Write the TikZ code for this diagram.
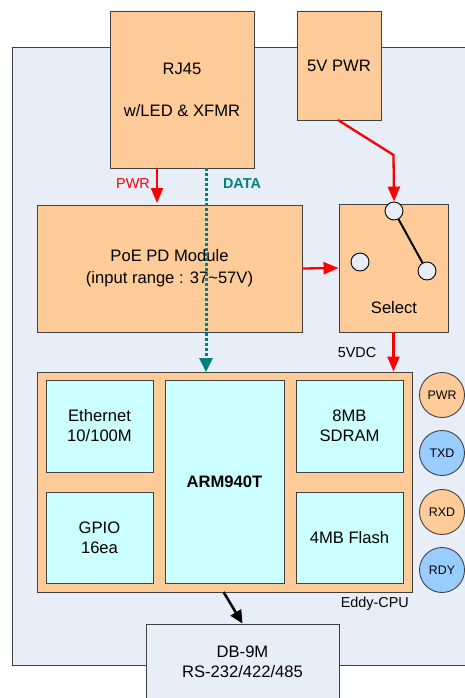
\documentclass[tikz,border=0pt]{standalone}
\usepackage{fontspec}
\setmainfont{Liberation Sans}
\usetikzlibrary{arrows.meta}
\definecolor{bgpanel}{HTML}{E8EEF8}
\definecolor{orangefill}{HTML}{FFCC99}
\definecolor{cyanfill}{HTML}{CCFFFF}
\definecolor{bluefill}{HTML}{99CCFF}
\definecolor{edgegray}{HTML}{404040}
\definecolor{tealc}{HTML}{008080}
\begin{document}
\begin{tikzpicture}[x=1pt,y=-1pt,
  mainfont/.style={font=\fontsize{16.6}{20}\selectfont},
  box/.style={draw=edgegray,line width=0.9pt,fill=orangefill,inner sep=0pt,mainfont,align=center},
  chip/.style={draw=edgegray,line width=0.9pt,fill=cyanfill,inner sep=0pt,mainfont,align=center,minimum width=107pt},
  led/.style={circle,draw=edgegray,line width=0.9pt,minimum size=45pt,inner sep=0pt,font=\fontsize{12.4}{14}\selectfont},
  swdot/.style={circle,draw=black,line width=0.9pt,fill=bgpanel,minimum size=18pt,inner sep=0pt},
  lbl/.style={font=\fontsize{14.4}{17}\selectfont,inner sep=0pt},
  redarrow/.style={draw=red,line width=2.3pt,-{Triangle[length=15pt,width=12pt]}},
]
\useasboundingbox (0,0) rectangle (465,698);
% background panel
\fill[bgpanel,draw=edgegray,line width=0.9pt] (12,47) rectangle (475,665);

% top boxes
\node[box,minimum width=144pt,minimum height=157pt] (rj) at (182,89.5) {RJ45\\[22pt]w/LED \& XFMR};
\node[box,minimum width=84pt,minimum height=109pt] (pwr5) at (339,65.5) {5V PWR};

% PoE and Select
\node[box,minimum width=265pt,minimum height=127pt] (poe) at (169.5,268.5) {PoE PD Module\\[2pt](input range : 37\textasciitilde57V)};
\node[box,minimum width=109pt,minimum height=128pt] (sel) at (393.5,268) {};
\node[mainfont,inner sep=0pt] (seltxt) at (394,308) {Select};
\node[swdot] (swtop) at (394,211) {};
\node[swdot] (swleft) at (360,262) {};
\node[swdot] (swright) at (427,271) {};
\draw[black,line width=2pt] (swtop) -- (swright);

% Eddy-CPU
\node[box,minimum width=375pt,minimum height=220pt] (eddy) at (224.5,482) {};
\node[chip,minimum height=92pt] (eth) at (99.5,426) {Ethernet\\10/100M};
\node[chip,minimum height=91pt] (gpio) at (99.5,537.5) {GPIO\\16ea};
\node[chip,minimum width=119pt,minimum height=203pt] (arm) at (224.5,481.5) {\bfseries ARM940T};
\node[chip,minimum height=92pt] (sdram) at (349.5,426) {8MB\\SDRAM};
\node[chip,minimum height=91pt] (flash) at (349.5,537.5) {4MB Flash};
\node[lbl,anchor=east] (eddylbl) at (409,604) {Eddy-CPU};

% LEDs
\node[led,fill=orangefill] (ledpwr) at (442,395) {PWR};
\node[led,fill=bluefill] (ledtxd) at (442,453) {TXD};
\node[led,fill=orangefill] (ledrxd) at (442,512) {RXD};
\node[led,fill=bluefill] (ledrdy) at (442,570) {RDY};

% DB-9M
\node[draw=edgegray,line width=0.9pt,fill=bgpanel,minimum width=193pt,minimum height=90pt,inner sep=0pt] (db) at (242.5,669) {};
\node[mainfont,align=center,inner sep=0pt] (dbtxt) at (242.5,662) {DB-9M\\RS-232/422/485};

% labels
\node[lbl,text=red,anchor=east] (pwrlbl) at (150,184) {PWR};
\node[lbl,text=tealc,font=\fontsize{14.4}{17}\selectfont\bfseries] (datalbl) at (242,184) {DATA};
\node[lbl] (vdclbl) at (357,353) {5VDC};

% connectors
\coordinate (pwrstart) at (157,168);
\coordinate (pwrend) at (157,203);
\draw[redarrow] (pwrstart) -- (pwrend);
\coordinate (p5a) at (338,120);
\coordinate (p5b) at (393.5,155);
\draw[redarrow] (p5a) -- (p5b) -- (swtop.north);
\draw[redarrow] (poe.east) -- (sel.west);
\draw[redarrow] (sel.south) -- (sel.south |- eddy.north);
\coordinate (datastart) at (206,168);
\coordinate (dataend) at (206,372);
\draw[tealc,line width=3pt,dash pattern=on 3pt off 2pt,-{Triangle[length=14pt,width=13pt]}] (datastart) -- (dataend);
\coordinate (cpuout) at (223.5,592);
\draw[black,line width=2.5pt,-{Triangle[length=13pt,width=12pt]}] (cpuout) -- (db.north);
\end{tikzpicture}
\end{document}
